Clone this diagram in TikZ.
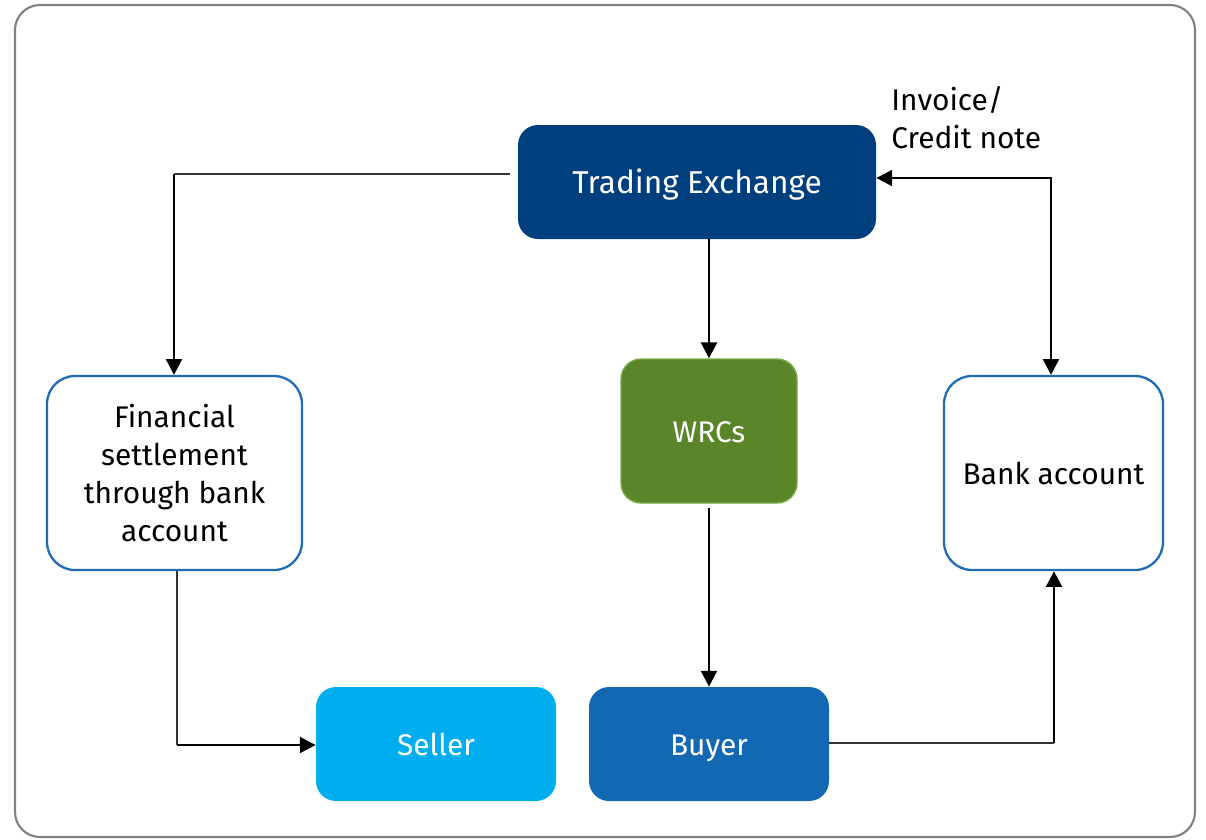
\documentclass[tikz,border=0pt]{standalone}
\usepackage{fontspec}
\setmainfont{Fira Sans}
\usetikzlibrary{arrows.meta}
\definecolor{navy}{RGB}{0,63,125}
\definecolor{wgreen}{RGB}{91,133,41}
\definecolor{wgreenb}{RGB}{120,170,70}
\definecolor{sky}{RGB}{0,174,239}
\definecolor{mblue}{RGB}{18,104,179}
\definecolor{bord}{RGB}{31,107,181}
\tikzset{
  box/.style={rounded corners=20*0.02cm, inner sep=0pt, align=center, font=\fontsize{17}{21.5}\selectfont},
  filled/.style={box, text=white, text height=14pt, text depth=1pt},
  open/.style={box, draw=bord, line width=1.3pt, fill=white, rounded corners=28*0.02cm},
  thick arrow/.style={line width=1.5pt, -{Triangle[length=9pt,width=9pt]}},
  both arrow/.style={line width=1.5pt, {Triangle[length=9pt,width=9pt]}-{Triangle[length=9pt,width=9pt]}},
  thin line/.style={line width=0.7pt, draw=black!80},
}
\begin{document}
\begin{tikzpicture}[x=0.02cm,y=-0.02cm]
\useasboundingbox (0,0) rectangle (1206,839);
\draw[draw=black!50, line width=1.2pt, rounded corners=25*0.02cm] (15,5) rectangle (1195,837);

\node[filled, fill=navy, minimum width=358*0.02cm, minimum height=114*0.02cm, font=\fontsize{18}{21.5}\selectfont] (te) at (697,182) {Trading Exchange};
\node[filled, fill=wgreen, draw=wgreenb, line width=0.8pt, minimum width=176*0.02cm, minimum height=144*0.02cm] (wrc) at (709,431) {WRCs};
\node[open, minimum width=255*0.02cm, minimum height=194*0.02cm] (fin) at (174.5,473) {Financial\\settlement\\through bank\\account};
\node[open, minimum width=219*0.02cm, minimum height=194*0.02cm] (bank) at (1053.5,473) {Bank account};
\node[filled, fill=sky, minimum width=240*0.02cm, minimum height=114*0.02cm] (seller) at (436,744) {Seller};
\node[filled, fill=mblue, minimum width=240*0.02cm, minimum height=114*0.02cm] (buyer) at (709,744) {Buyer};

\node[anchor=north west, align=left, inner sep=0pt, font=\fontsize{17}{21.5}\selectfont] (inv) at (891,86) {Invoice/\\Credit note};

\coordinate (c1) at (174,174);
\coordinate (c2) at (177,745);
\coordinate (c3) at (1054,743);
\coordinate (c4) at (1051,178);

\draw[thin line] ([xshift=-8*0.02cm]te.west |- c1) -- (c1);
\draw[thick arrow] (c1) -- (c1 |- fin.north);
\draw[thick arrow] (wrc.north |- te.south) -- (wrc.north);
\draw[thick arrow] ([yshift=-4*0.02cm]wrc.south) -- (buyer.north);
\draw[thin line] (c2 |- fin.south) -- (c2);
\draw[thick arrow] (c2) -- (seller.west |- c2);
\draw[thin line] (buyer.east |- c3) -- (c3);
\draw[thick arrow] (c3) -- (c3 |- bank.south);
\draw[both arrow] (te.east |- c4) -- (c4) -- (c4 |- bank.north);
\end{tikzpicture}
\end{document}
